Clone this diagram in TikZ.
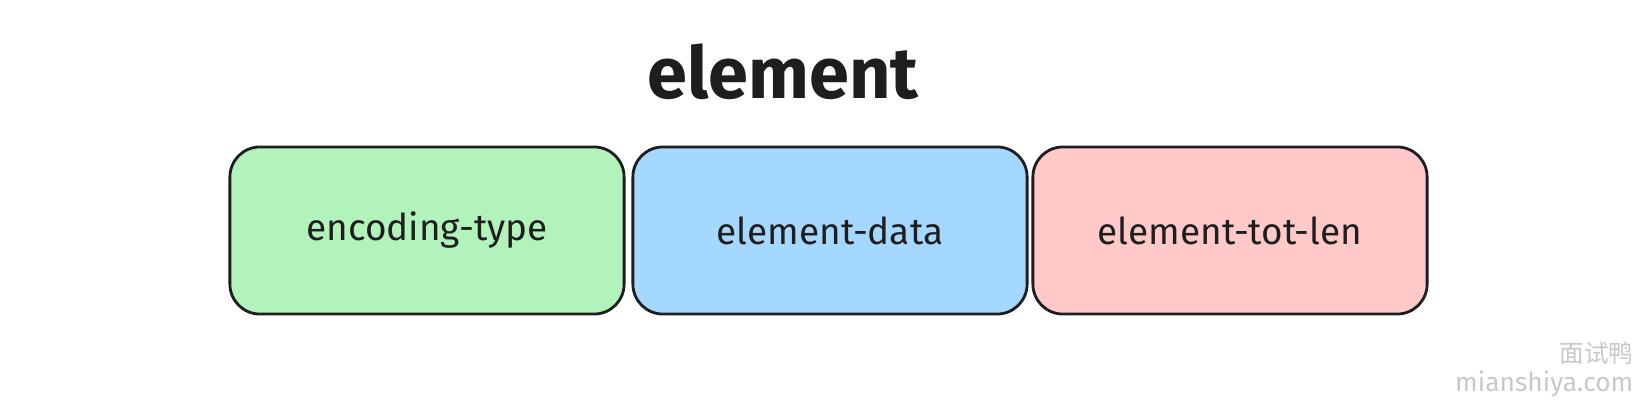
\documentclass[tikz,border=0pt]{standalone}
\usepackage{fontspec}
\setmainfont{Fira Sans}
\newfontfamily\cjk{Noto Sans CJK SC}
\usepackage{tikz}

\definecolor{inkdark}{HTML}{1E1E1E}
\definecolor{typegreen}{HTML}{B2F2BB}
\definecolor{datablue}{HTML}{A5D8FF}
\definecolor{lenpink}{HTML}{FFC9C9}
\definecolor{markgray}{HTML}{C8C8C8}

\begin{document}
\begin{tikzpicture}
			[x=0.01cm,y=-0.01cm,every node/.style={inner sep=0pt,text=inkdark},
			field/.style={draw=inkdark,line width=0.8pt,rounded corners=0.3cm,minimum width=3.94cm,minimum height=1.67cm,font=\fontsize{10.5}{13}\selectfont},
			wmark/.style={anchor=east,text=markgray}]
			\useasboundingbox (0,0) rectangle (1646,406);

			\node[anchor=base,font=\fontsize{20.5}{25}\selectfont\bfseries] (title) at (783,98) {element};

			\foreach \name/\cx/\col/\txt in {enc/427/typegreen/encoding-type,dat/830/datablue/element-data,len/1230/lenpink/element-tot-len}
			\node[field,fill=\col] (\name) at (\cx,230.5) {\txt};

			\node[wmark,font=\cjk\fontsize{7}{8}\selectfont] (wmcn) at (1634,353) {面试鸭};
			\node[wmark,font=\fontsize{7.5}{9}\selectfont] (wmen) at (1634,384) {mianshiya.com};

			\end{tikzpicture}
\end{document}
